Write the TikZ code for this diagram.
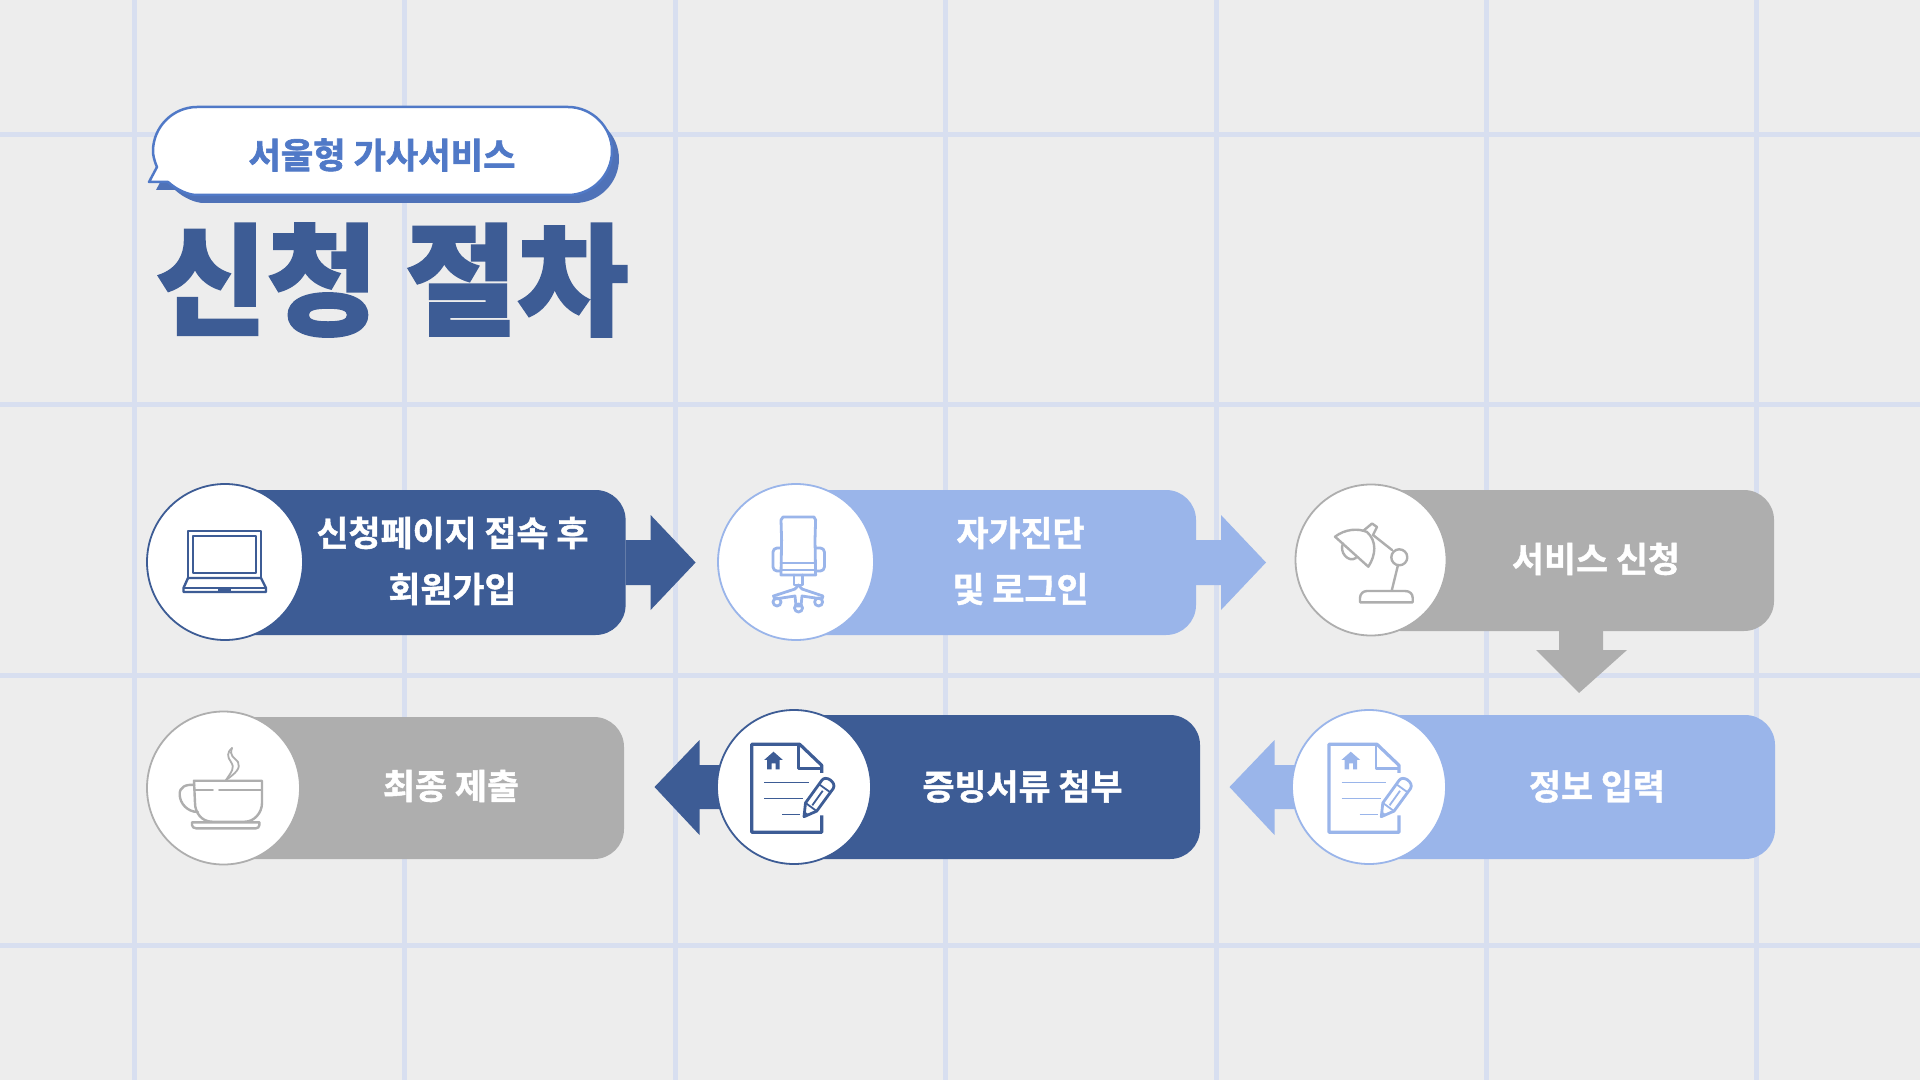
\documentclass[tikz,border=0pt]{standalone}
\usepackage{fontspec}
\newfontfamily\krfont{Noto Sans CJK KR Bold}[FakeBold=1.2]
\newfontfamily\krbubble{Noto Sans CJK KR Bold}[FakeBold=1.8]
\newfontfamily\krblack{Noto Sans CJK KR Black}[FakeBold=1.6]
\usetikzlibrary{positioning}
\definecolor{paper}{HTML}{EDEDED}
\definecolor{gridblue}{HTML}{D8DFF0}
\definecolor{navy}{HTML}{3D5C95}
\definecolor{sky}{HTML}{9AB5EA}
\definecolor{ash}{HTML}{AEAEAE}
\definecolor{bubbleblue}{HTML}{5079C7}
\definecolor{bubbleshade}{HTML}{4F72B8}
\tikzset{
  gridline/.style={gridblue,line width=2.5pt},
  stepcard/.style={rectangle,rounded corners=15pt,inner sep=0pt,outer sep=0pt},
  stepcircle/.style={circle,fill=white,line width=.9pt,inner sep=0pt,outer sep=0pt},
  steplabel/.style={white,align=center,inner sep=0pt,font=\krfont\fontsize{17.4}{28}\selectfont},
  iconline/.style={line width=1.2pt,line join=round,line cap=round},
}
\newcommand{\bubblepath}{(197,107) -- (568,107) .. controls (592,107) and (612,127) .. (612,151)
  .. controls (612,175) and (592,195) .. (568,195) -- (197,195)
  .. controls (188,195) and (177,190) .. (168,182) -- (149,182) -- (157,167)
  .. controls (154,160) and (153,155) .. (153,151)
  .. controls (153,127) and (173,107) .. (197,107) -- cycle}
\newcommand{\blockright}[2]{\fill[#1] (#2) ++(0,-22.5) -- ++(25,0) -- ++(0,-25) -- ++(45,47.5) -- ++(-45,47.5) -- ++(0,-25) -- ++(-25,0) -- cycle;}
\newcommand{\blockleft}[2]{\fill[#1] (#2) ++(0,-22) -- ++(-94.5,0) -- ++(0,-25) -- ++(-45,47) -- ++(45,48) -- ++(0,-26) -- ++(94.5,0) -- cycle;}
\newcommand{\docicon}[2]{
  \begin{scope}[shift={(#1,744.3)},#2]
    \draw[line width=1.6pt,line join=round] (70,28.5) -- (70,21) -- (48,0) -- (0,0) -- (0,88) -- (70,88) -- (70,71);
    \draw[line width=1.4pt,line join=round] (47,1) -- (47,24) -- (70,24);
    \fill (21.8,7.4) -- (31,15.5) -- (28,15.5) -- (28,25) -- (24,25) -- (24,19) -- (20,19) -- (20,25) -- (15.5,25) -- (15.5,15.5) -- (12.6,15.5) -- cycle;
    \draw[line width=.8pt] (12.6,38) -- (57.3,38) (12.6,54) -- (51.6,54) (30.6,70) -- (48.6,70);
    \draw[line width=1.4pt,line join=round,fill=white] (52.3,72.4) -- (53.8,58.6) -- (70.2,35.9)
      .. controls (74,30.5) and (85,38) .. (81.6,44.1) -- (65,66.8) -- cycle;
    \draw[line width=.9pt] (53.8,58.6) -- (65,66.8) (67.3,39.9) -- (78.7,48.1) (60.6,61) -- (71,46.5);
    \fill (52.3,72.4) -- (52.8,67) -- (56.8,70) -- cycle;
  \end{scope}
}
\begin{document}
\begin{tikzpicture}[x=.5pt,y=-.5pt]
  \useasboundingbox (0,0) rectangle (1920,1080);
  \fill[paper] (0,0) rectangle (1920,1080);
  \foreach \gx in {134.5,404.9,675.3,945.7,1216.1,1486.5,1756.9}
    \draw[gridline] (\gx,0) -- (\gx,1080);
  \foreach \gy in {134.6,404.6,675,945.4}
    \draw[gridline] (0,\gy) -- (1920,\gy);

  % heading
  \fill[bubbleshade,shift={(7,8)}] \bubblepath;
  \draw[bubbleblue,fill=white,line width=1.25pt,line join=round] \bubblepath;
  \node[bubbleblue,inner sep=0pt,font=\krbubble\fontsize{17.6}{20}\selectfont] (bubbletext) at (382,155) {서울형 가사서비스};
  \node[navy,inner sep=0pt,font=\krblack\fontsize{60.5}{64}\selectfont] (headline) at (392,280) {신청 절차};

  \coordinate (cone) at (225,562);
  \coordinate (ctwo) at (796,562);
  \coordinate (cthree) at (1371,560);
  \coordinate (cfour) at (1369,787);
  \coordinate (cfive) at (794,787);
  \coordinate (csix) at (223.5,788);

  % cards
  \node[stepcard,fill=navy,minimum width=200.8pt,minimum height=72.5pt] (cardone) at (424.8,562.5) {};
  \node[stepcard,fill=sky,minimum width=200.5pt,minimum height=72.5pt] (cardtwo) at (995.5,562.5) {};
  \node[stepcard,fill=ash,minimum width=201.8pt,minimum height=70.5pt] (cardthree) at (1572.2,560.5) {};
  \node[stepcard,fill=sky,minimum width=203pt,minimum height=72pt] (cardfour) at (1572,787) {};
  \node[stepcard,fill=navy,minimum width=203pt,minimum height=72pt] (cardfive) at (997,787) {};
  \node[stepcard,fill=ash,minimum width=200.75pt,minimum height=71pt] (cardsix) at (423.25,788) {};

  % arrows
  \blockright{navy}{cardone.east}
  \blockright{sky}{cardtwo.east}
  \fill[ash] (1559,631) -- (1603,631) -- (1603,650) -- (1627,650) -- (1579,693) -- (1536,650) -- (1559,650) -- cycle;
  \blockleft{sky}{cfour}
  \blockleft{navy}{cfive}

  % circles
  \node[stepcircle,draw=navy,minimum size=78pt] (iconone) at (cone) {};
  \node[stepcircle,draw=sky,minimum size=78pt] (icontwo) at (ctwo) {};
  \node[stepcircle,draw=ash,minimum size=75.5pt] (iconthree) at (cthree) {};
  \node[stepcircle,draw=sky,minimum size=77pt] (iconfour) at (cfour) {};
  \node[stepcircle,draw=navy,minimum size=77pt] (iconfive) at (cfive) {};
  \node[stepcircle,draw=ash,minimum size=76.5pt] (iconsix) at (csix) {};

  % labels
  \node[steplabel] (labelone) at (452.5,561) {신청페이지 접속 후\\회원가입};
  \node[steplabel] (labeltwo) at (1020.5,561) {자가진단\\및 로그인};
  \node[steplabel] (labelthree) at (1596,559) {서비스 신청};
  \node[steplabel] (labelfour) at (1597,786.5) {정보 입력};
  \node[steplabel] (labelfive) at (1022.5,786.5) {증빙서류 첨부};
  \node[steplabel] (labelsix) at (451,786) {최종 제출};

  % laptop
  \begin{scope}[navy,iconline]
    \draw (188,578) -- (188,531) -- (261,531) -- (261,578);
    \draw[line width=.8pt] (193,536) rectangle (256,573);
    \draw (188,578) -- (183.5,588) -- (183.5,592) -- (266,592) -- (266,588) -- (261,578) -- cycle;
    \draw[line width=.7pt] (183.5,588) -- (266,588);
    \fill (218,588) rectangle (231,591);
  \end{scope}

  % chair
  \begin{scope}[sky,iconline,line width=1.4pt]
    \draw (783,517) -- (814,517) -- (815.6,520) -- (815,540) -- (815.6,575) -- (781,575) -- (781.6,540) -- (781,520) -- cycle;
    \draw (781,563) -- (815.6,563) (781,570) -- (815.6,570);
    \draw[rounded corners=2pt] (781,548) -- (773,548) -- (773,571) -- (781,571);
    \draw[rounded corners=2pt] (816,548) -- (824.4,548) -- (824.4,571) -- (816,571);
    \draw (794,575) -- (794,585) -- (802.5,585) -- (802.5,575);
    \draw (798.5,585) -- (802,589) -- (823,596) -- (822,599) -- (802,596) -- (801,606) -- (796,606) -- (795,596) -- (775,599) -- (773.5,596) -- (795,589) -- cycle;
    \draw (777,602) circle (2pt) (818.6,602) circle (2pt) (798.5,608) circle (2pt);
  \end{scope}

  % lamp
  \begin{scope}[ash,iconline]
    \draw (1335,536.7) .. controls (1345,529) and (1358,528) .. (1367,532) .. controls (1377,541) and (1376,555) .. (1368.3,566.7) -- cycle;
    \draw (1343,543.5) .. controls (1339,552) and (1348,563) .. (1356,558);
    \draw (1363,531) -- (1372,523.5) -- (1377,527) -- (1373,535);
    \draw (1373,535) -- (1392,550);
    \draw (1399.3,557.3) circle (4pt);
    \draw (1398,565) -- (1391.7,590.7);
    \draw (1360,602.3) -- (1360,598) .. controls (1360,594) and (1363,591) .. (1367,591) -- (1405,591) .. controls (1410,591) and (1412.7,594) .. (1412.7,598) -- (1412.7,602.3) -- cycle;
  \end{scope}

  % cup
  \begin{scope}[ash,iconline]
    \draw (194,780.7) -- (262,780.7) -- (262,803) .. controls (262,813) and (254,821.7) .. (245,821.7) -- (212,821.7) .. controls (202,821.7) and (195,813) .. (195,803) -- cycle;
    \draw[line width=.8pt] (195,790) -- (213,790) (219,790) -- (262,790);
    \draw (192,822.3) -- (259.4,822.3) -- (259.4,825) .. controls (259,827) and (258,828.3) .. (256,828.3) -- (196,828.3) .. controls (194,828.3) and (192,827) .. (192,825) -- cycle;
    \draw (194.3,785) .. controls (186,784) and (179,787) .. (179.7,795) .. controls (180,803) and (187,812) .. (198,812);
    \draw[line width=.9pt] (226,780) .. controls (236,773) and (241,768) .. (238,762) .. controls (234,757) and (229,756) .. (232,748);
    \draw[line width=.9pt] (226,780) .. controls (232,771) and (235,768) .. (231,762) .. controls (227,757) and (227,752) .. (232,748);
  \end{scope}

  % documents
  \docicon{751.7}{navy}
  \docicon{1329}{sky}
\end{tikzpicture}
\end{document}
